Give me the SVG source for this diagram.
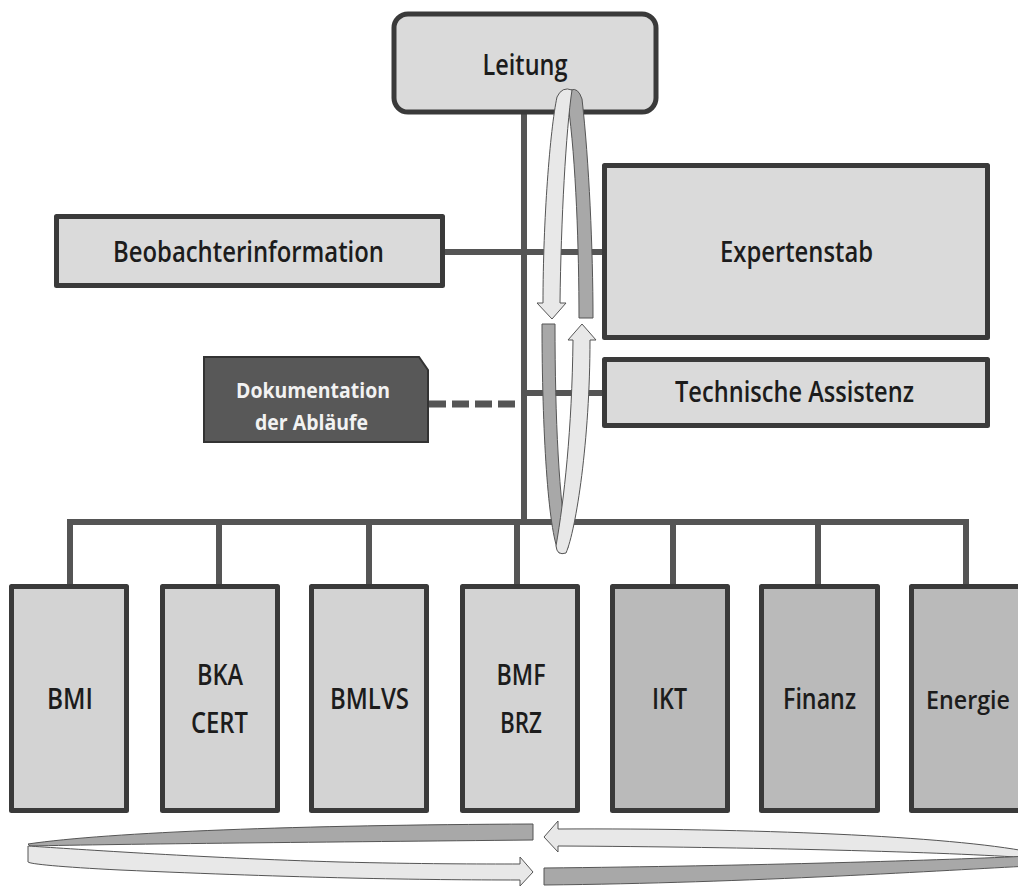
<svg xmlns="http://www.w3.org/2000/svg" width="1018" height="886" viewBox="0 0 1018 886">
<style>
.box{stroke:#3a3a3a;stroke-width:5;stroke-linejoin:round}
.top{fill:#dadada}
.lt{fill:#d3d3d3}
.dk{fill:#bababa}
.lbl{font-family:"Open Sans","Noto Sans",sans-serif;font-weight:600;font-size:28px;fill:#1c1c1c;text-anchor:middle}
.wl{font-family:"Open Sans","Noto Sans",sans-serif;font-weight:700;font-size:21px;fill:#f2f2f2;text-anchor:middle}
.ln{stroke:#555;stroke-width:6;fill:none}
.rl{fill:#e8e8e8;stroke:#555;stroke-width:1}
.rd{fill:#a8a8a8;stroke:#555;stroke-width:1}
</style>
<rect width="1018" height="886" fill="#fff"/>
<g id="connectors">
<line class="ln" x1="524" y1="112" x2="524" y2="522"/>
<polyline class="ln" points="70,584 70,522 966,522 966,584"/>
<line class="ln" x1="219" y1="522" x2="219" y2="584"/>
<line class="ln" x1="369" y1="522" x2="369" y2="584"/>
<line class="ln" x1="517" y1="522" x2="517" y2="584"/>
<line class="ln" x1="673" y1="522" x2="673" y2="584"/>
<line class="ln" x1="818" y1="522" x2="818" y2="584"/>
<line class="ln" x1="445" y1="252" x2="602" y2="252"/>
<line class="ln" x1="524" y1="393" x2="602" y2="393"/>
<line x1="429" y1="404" x2="519" y2="404" stroke="#555" stroke-width="7" stroke-dasharray="17 6"/>
</g>
<g id="leitung">
<rect class="box top" x="394" y="14" width="262" height="98" rx="14" stroke-width="4"/>
<text class="lbl" x="525" y="75" textLength="85" lengthAdjust="spacingAndGlyphs">Leitung</text>
</g>
<g id="beobachterinformation">
<rect class="box top" x="56.5" y="216.5" width="386" height="69"/>
<text class="lbl" x="248.5" y="262" textLength="271" lengthAdjust="spacingAndGlyphs">Beobachterinformation</text>
</g>
<g id="expertenstab">
<rect class="box top" x="604.5" y="165.5" width="383" height="172"/>
<text class="lbl" x="796.5" y="262" textLength="153" lengthAdjust="spacingAndGlyphs">Expertenstab</text>
</g>
<g id="technische-assistenz">
<rect class="box top" x="604.5" y="359.5" width="383" height="66"/>
<text class="lbl" x="794.5" y="402" textLength="239" lengthAdjust="spacingAndGlyphs">Technische Assistenz</text>
</g>
<g id="dokumentation">
<path d="M204,357 H419 L428,370 V442 H204 Z" fill="#585858" stroke="#333" stroke-width="2"/>
<text class="wl" x="313" y="398" textLength="154" lengthAdjust="spacingAndGlyphs">Dokumentation</text>
<text class="wl" x="311.5" y="430" textLength="113" lengthAdjust="spacingAndGlyphs">der Abläufe</text>
</g>
<g id="bmi">
<rect class="box lt" x="11.5" y="586.5" width="115" height="224"/>
<text class="lbl" x="70" y="709" textLength="46" lengthAdjust="spacingAndGlyphs">BMI</text>
</g>
<g id="bka-cert">
<rect class="box lt" x="162.5" y="586.5" width="115" height="224"/>
<text class="lbl" x="220" y="685" textLength="46" lengthAdjust="spacingAndGlyphs">BKA</text>
<text class="lbl" x="219.5" y="733" textLength="57" lengthAdjust="spacingAndGlyphs">CERT</text>
</g>
<g id="bmlvs">
<rect class="box lt" x="311.5" y="586.5" width="115" height="224"/>
<text class="lbl" x="369.5" y="709" textLength="79" lengthAdjust="spacingAndGlyphs">BMLVS</text>
</g>
<g id="bmf-brz">
<rect class="box lt" x="462.5" y="586.5" width="115" height="224"/>
<text class="lbl" x="521" y="685" textLength="49" lengthAdjust="spacingAndGlyphs">BMF</text>
<text class="lbl" x="521" y="733" textLength="42" lengthAdjust="spacingAndGlyphs">BRZ</text>
</g>
<g id="ikt">
<rect class="box dk" x="612.5" y="586.5" width="115" height="224"/>
<text class="lbl" x="669.5" y="709" textLength="35" lengthAdjust="spacingAndGlyphs">IKT</text>
</g>
<g id="finanz">
<rect class="box dk" x="761.5" y="586.5" width="116" height="224"/>
<text class="lbl" x="819.5" y="709" textLength="73" lengthAdjust="spacingAndGlyphs">Finanz</text>
</g>
<g id="energie">
<rect class="box dk" x="911.5" y="586.5" width="116" height="224"/>
<text class="lbl" x="968" y="709" textLength="84" lengthAdjust="spacingAndGlyphs" style="font-size:25px">Energie</text>
</g>
<g id="cycle-vertical">
<path class="rd" d="M571,90 Q578,87 582,99 C589,160 593,250 593,318 H579 C579,250 576,160 568,104 Z"/>
<path class="rl" d="M543,303 C543,220 550,130 557,97 Q562,86 572,90 C566,130 561,220 560,303 H566 L552,319 L537,303 Z"/>
<path class="rd" d="M542,324 H555 C555,420 559,500 568,548 L559,553 C548,530 542,430 542,324 Z"/>
<path class="rl" d="M573,340 C572,430 564,500 556,546 Q557,556 566,553 C576,530 590,440 590,340 H596 L582,324 L568,340 Z"/>
</g>
<g id="cycle-horizontal">
<path class="rd" d="M28,844 C110,832 300,825 533,824 V840 C330,842 120,844 30,846 Z"/>
<path class="rl" d="M28,846 C60,848 200,858 340,862 C420,864 480,864 520,864 V857 L533,872 L520,886 V880 C420,880 300,878 120,870 C60,867 30,864 28,862 Z"/>
<path class="rl" d="M558,829 C750,828 950,836 1030,852 L1030,858 C950,852 750,847 558,846 V852 L544,837 L558,821 Z"/>
<path class="rd" d="M544,868 C750,866 950,860 1030,856 L1030,866 C950,870 750,883 544,885 Z"/>
</g>
</svg>
